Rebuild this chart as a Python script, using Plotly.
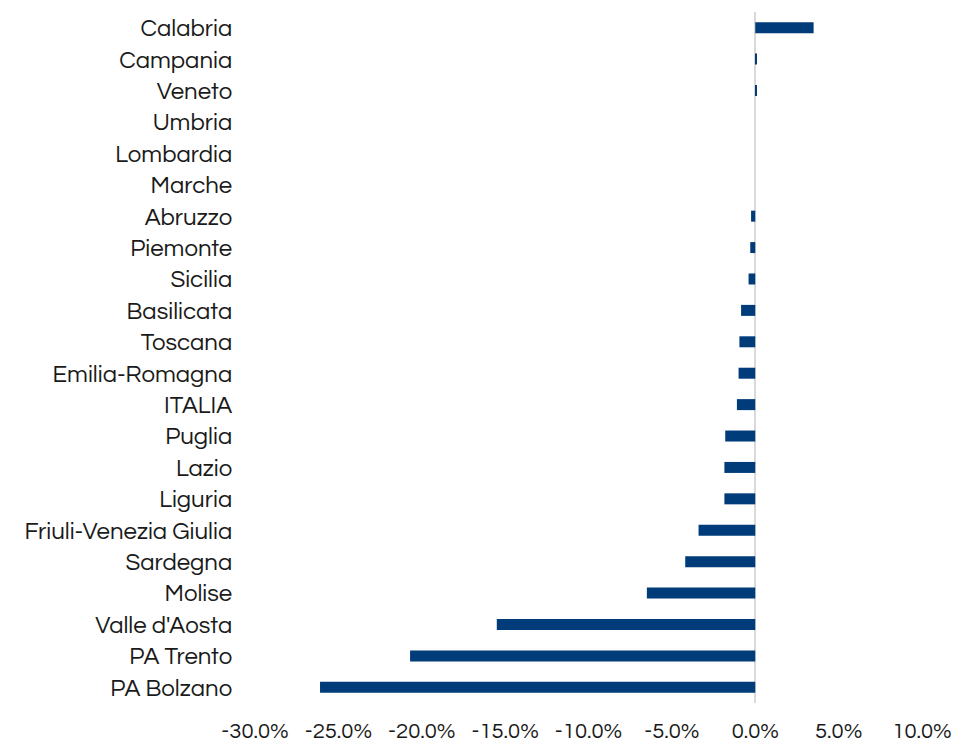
import plotly.graph_objects as go

# Regions, listed top to bottom
regioni = [
    "Calabria", "Campania", "Veneto", "Umbria", "Lombardia", "Marche",
    "Abruzzo", "Piemonte", "Sicilia", "Basilicata", "Toscana",
    "Emilia-Romagna", "ITALIA", "Puglia", "Lazio", "Liguria",
    "Friuli-Venezia Giulia", "Sardegna", "Molise", "Valle d'Aosta",
    "PA Trento", "PA Bolzano",
]

# Percentage change per region
variazione = [
    3.5, 0.05, 0.05, 0.0, 0.0, 0.0,
    -0.25, -0.3, -0.4, -0.85, -0.95,
    -1.0, -1.1, -1.8, -1.85, -1.85,
    -3.4, -4.2, -6.5, -15.5,
    -20.7, -26.1,
]

x_ticks = [-30, -25, -20, -15, -10, -5, 0, 5, 10]

FONT = "Century Gothic, Questrial, Lato, DejaVu Sans, sans-serif"

fig = go.Figure(
    go.Bar(
        x=variazione,
        y=regioni,
        orientation="h",
        marker=dict(color="#003B7A", line=dict(width=0)),
        width=0.35,
        hoverinfo="x+y",
    )
)

fig.update_layout(
    width=957,
    height=746,
    margin=dict(l=255, r=35, t=12, b=43),
    paper_bgcolor="white",
    plot_bgcolor="white",
    showlegend=False,
    font=dict(family=FONT, size=24, color="#1a1a1a"),
)

fig.update_xaxes(
    range=[-30, 10],
    tickvals=x_ticks,
    ticktext=[f"{v:.1f}%" for v in x_ticks],
    showgrid=False,
    zeroline=True,
    zerolinecolor="#D9D9D9",
    zerolinewidth=2,
    showline=False,
    ticks="outside",
    ticklen=8,
    tickcolor="rgba(0,0,0,0)",
    tickfont=dict(family=FONT, size=22, color="#1a1a1a"),
    automargin=False,
)

fig.update_yaxes(
    categoryorder="array",
    categoryarray=regioni,
    autorange="reversed",
    showgrid=False,
    showline=False,
    ticks="outside",
    ticklen=17,
    tickcolor="rgba(0,0,0,0)",
    tickfont=dict(family=FONT, size=24, color="#1a1a1a"),
    automargin=False,
)

fig.write_html("out.html")
